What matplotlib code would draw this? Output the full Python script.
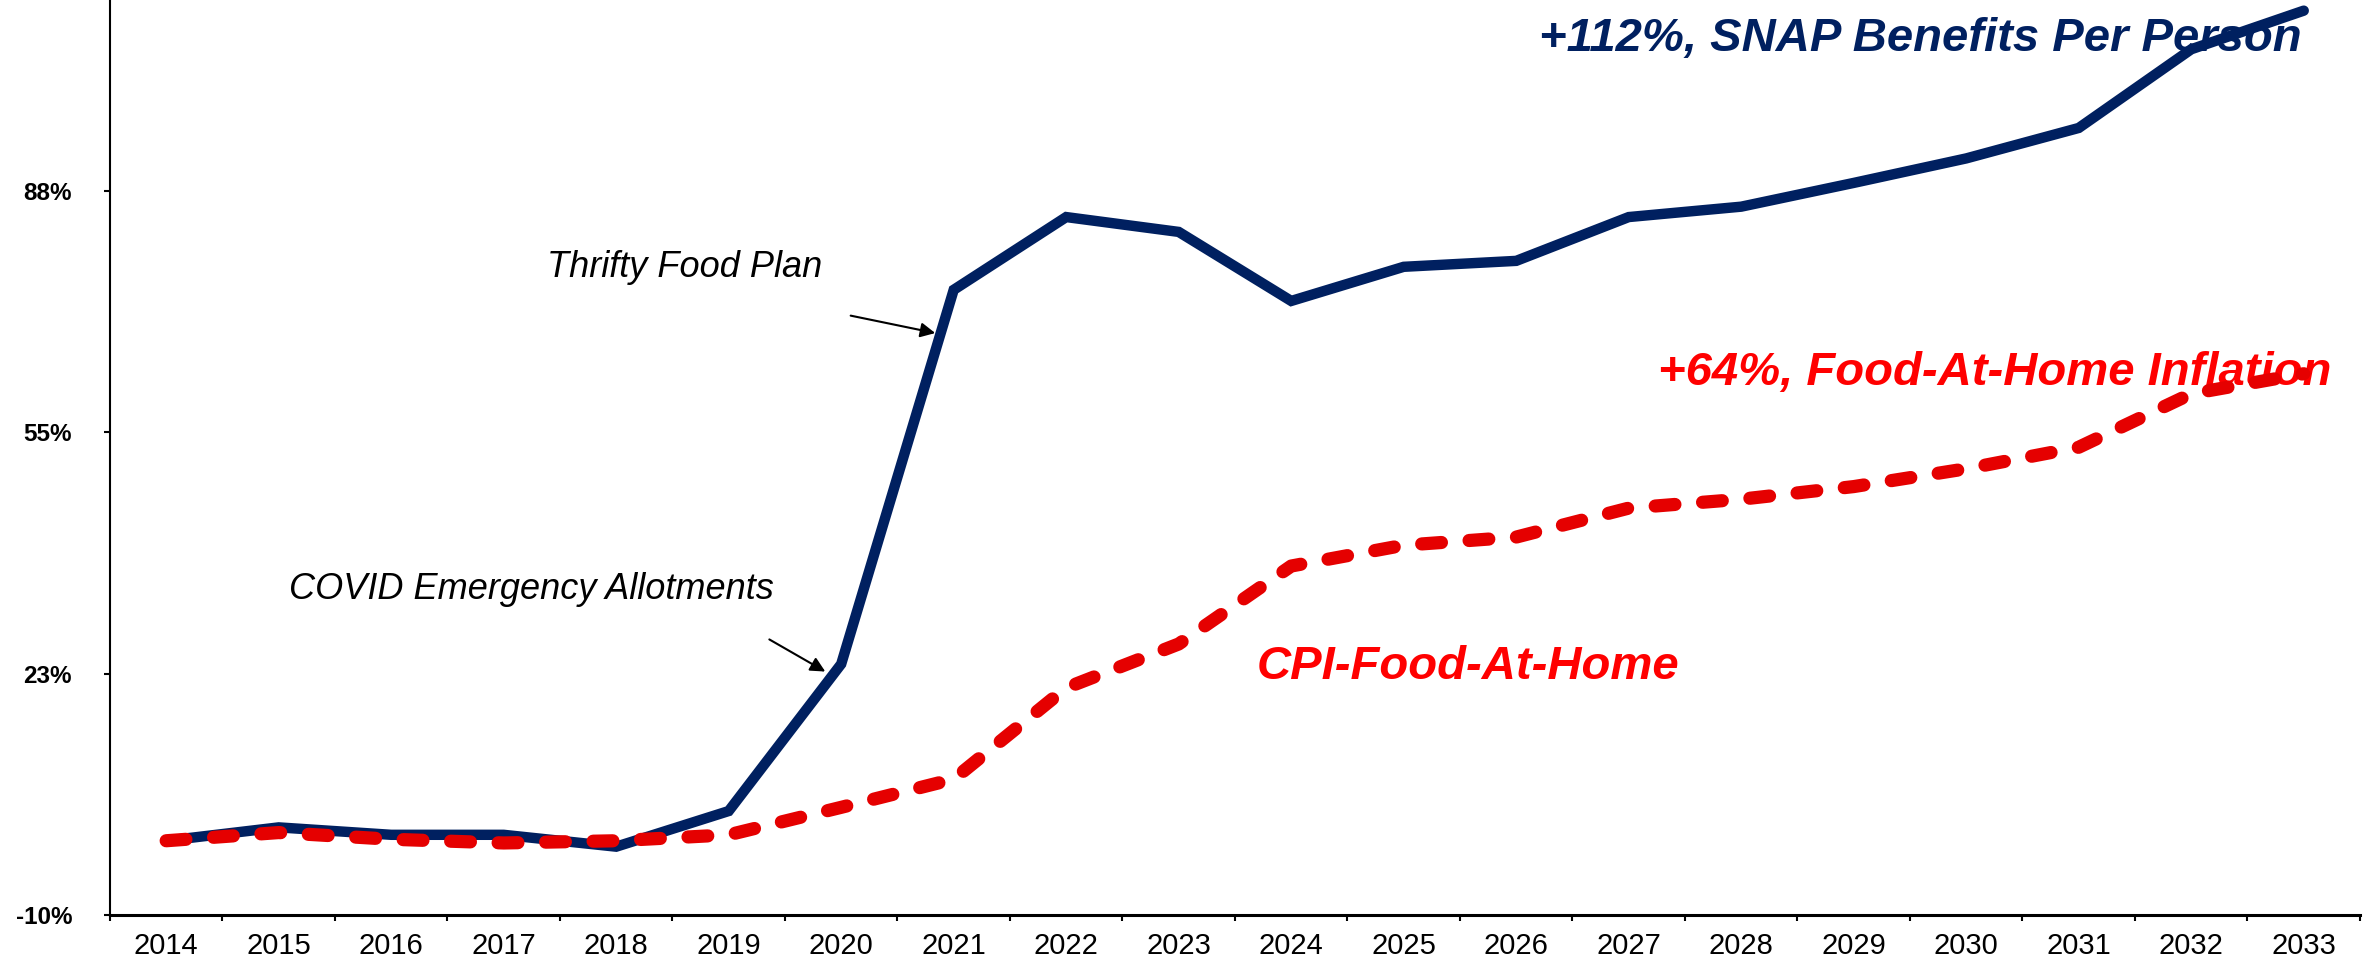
import numpy as np
import matplotlib.pyplot as plt

# cumulative % change since 2014
years = ['2014', '2015', '2016', '2017', '2018', '2019', '2020', '2021', '2022', '2023',
         '2024', '2025', '2026', '2027', '2028', '2029', '2030', '2031', '2032', '2033']
snap_per_person = [0.0, 1.8, 0.8, 0.8, -0.8, 4.0, 23.8, 74.2, 84.0, 82.0,
                   72.7, 77.3, 78.1, 84.0, 85.4, 88.6, 91.9, 96.0, 106.6, 111.8]
cpi_food_home = [0.0, 1.1, 0.2, -0.3, 0.0, 0.8, 4.5, 8.3, 20.6, 26.5,
                 37.0, 39.8, 40.9, 44.8, 46.0, 47.7, 50.1, 53.0, 60.2, 62.9]
ytick_vals = [-10, 22.5, 55, 87.5]
ytick_labels = ['-10%', '23%', '55%', '88%']

NAVY = '#002060'
RED_LINE = '#E50000'
RED_TEXT = '#FF0000'

fig = plt.figure(figsize=(23.69, 9.66), dpi=100)
ax = fig.add_axes([0.0464, 0.0528, 0.9498, 0.9992])

x = np.arange(len(years))
ax.plot(x, snap_per_person, color=NAVY, lw=7.5, solid_capstyle='round',
        solid_joinstyle='miter', zorder=3)
ax.plot(x, cpi_food_home, color=RED_LINE, lw=9.5, dashes=(1.5, 2.1),
        dash_capstyle='round', zorder=4)

ax.set_xlim(-0.5, len(years) - 0.5)
ax.set_ylim(-10, 120)

# category labels centred, tick marks between categories
ax.set_xticks(x)
ax.set_xticklabels(years, family=['Liberation Sans Narrow', 'Liberation Sans'], fontsize=21)
ax.set_xticks(np.arange(len(years) + 1) - 0.5, minor=True)
ax.tick_params(axis='x', which='major', length=0, pad=12)
ax.tick_params(axis='x', which='minor', length=4.3, width=1.5, direction='out')

ax.set_yticks(ytick_vals)
ax.set_yticklabels(ytick_labels, family='Liberation Sans', fontsize=17.5, fontweight='bold')
ax.tick_params(axis='y', length=4.3, width=1.5, direction='out', pad=23)

for s in ['top', 'right']:
    ax.spines[s].set_visible(False)
ax.spines['left'].set_linewidth(1.5)
ax.spines['bottom'].set_linewidth(2.2)

# annotations
ax.text(3.384, 75.9, 'Thrifty Food Plan', family='Liberation Sans', style='italic',
        fontsize=26, ha='left', va='baseline')
ax.annotate('', xy=(6.86, 68.3), xytext=(6.06, 70.8),
            arrowprops=dict(arrowstyle='-|>', color='black', lw=1.5, mutation_scale=22))
ax.text(5.40, 32.6, 'COVID Emergency Allotments', family='Liberation Sans', style='italic',
        fontsize=26, ha='right', va='baseline')
ax.annotate('', xy=(5.88, 22.6), xytext=(5.34, 27.3),
            arrowprops=dict(arrowstyle='-|>', color='black', lw=1.5, mutation_scale=22))

ax.text(18.98, 106.4, '+112%, SNAP Benefits Per Person', family='Liberation Sans',
        style='italic', fontweight='bold', fontsize=34, color=NAVY, ha='right', va='baseline')
ax.text(19.25, 61.4, '+64%, Food-At-Home Inflation', family='Liberation Sans',
        style='italic', fontweight='bold', fontsize=34, color=RED_TEXT, ha='right', va='baseline',
        zorder=2)
ax.text(9.69, 21.8, 'CPI-Food-At-Home', family='Liberation Sans',
        style='italic', fontweight='bold', fontsize=34, color=RED_TEXT, ha='left', va='baseline')

fig.savefig('out.png', dpi=100)
